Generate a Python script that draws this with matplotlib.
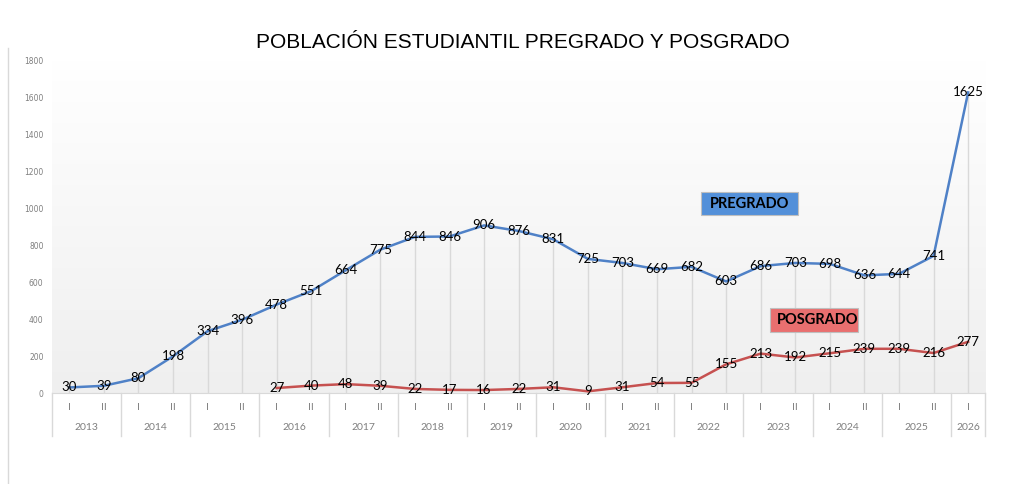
import numpy as np
import matplotlib
matplotlib.use("Agg")
import matplotlib.pyplot as plt
from matplotlib.patches import Rectangle
from matplotlib.colors import LinearSegmentedColormap

# semesters 2013-I ... 2026-I
years = [str(y) for y in range(2013, 2027)]
semestres = ["I", "II"] * 13 + ["I"]

pregrado = [30, 39, 80, 198, 334, 396, 478, 551, 664, 775, 844, 846, 906, 876,
            831, 725, 703, 669, 682, 603, 686, 703, 698, 636, 644, 741, 1625]
# posgrado starts at 2016-I
posgrado_start = 6
posgrado = [27, 40, 48, 39, 22, 17, 16, 22, 31, 9, 31, 54, 55, 155, 213, 192,
            215, 239, 239, 216, 277]

yticks = list(range(0, 1801, 200))

blue = "#4f81c7"
red = "#c65150"
fam = ["Lato", "DejaVu Sans"]

fig = plt.figure(figsize=(10.18, 4.84), dpi=100)
ax = fig.add_axes([0.051, 0.188, 0.917, 0.688])

n = len(pregrado)
x = np.arange(n)
xp = np.arange(posgrado_start, posgrado_start + len(posgrado))

# gradient background of plot area
grad = np.linspace(0, 1, 256).reshape(-1, 1)
ax.imshow(grad, extent=[-0.5, n - 0.5, 0, 1800], aspect="auto",
          cmap=LinearSegmentedColormap.from_list("g", ["#ffffff", "#efefef"]),
          origin="upper", zorder=0)

# drop lines
ax.vlines(x, 0, pregrado, color="#d9d9d9", lw=1, zorder=1)

ax.plot(x, pregrado, color=blue, lw=1.8, zorder=3)
ax.plot(xp, posgrado, color=red, lw=1.8, zorder=3)

lab_font = dict(fontsize=9.5, family=fam, color="black",
                ha="center", va="center", zorder=4)
for xi, v in zip(x, pregrado):
    ax.text(xi, v, str(v), **lab_font)
for xi, v in zip(xp, posgrado):
    ax.text(xi, v, str(v), **lab_font)

ax.set_xlim(-0.5, n - 0.5)
ax.set_ylim(0, 1800)
ax.set_yticks(yticks)
ax.set_yticklabels([str(t) for t in yticks], fontsize=5.5, color="#7f7f7f")
ax.tick_params(axis="y", length=0, pad=6)
ax.set_xticks([])
for s in ["top", "right", "left"]:
    ax.spines[s].set_visible(False)
ax.spines["bottom"].set_color("#d9d9d9")

# category axis table below
tr = ax.get_xaxis_transform()
bounds = [-0.5] + [1.5 + 2 * k for k in range(13)] + [n - 0.5]
for b in bounds:
    ax.plot([b, b], [0, -0.13], transform=tr, color="#d9d9d9", lw=1, clip_on=False)
for xi, s in zip(x, semestres):
    ax.text(xi, -0.045, s, transform=tr, ha="center", va="center", fontsize=7.5,
            color="#7f7f7f", family=fam)
for k, yr in enumerate(years):
    c = (bounds[k] + bounds[k + 1]) / 2
    ax.text(c, -0.105, yr, transform=tr, ha="center", va="center", fontsize=7.5,
            color="#7f7f7f", family=fam)

# series name boxes
fig.add_artist(Rectangle((0.6886, 0.5558), 0.0953, 0.0475, transform=fig.transFigure,
                         fc="#5390d9", ec="#bfbfbf", lw=0.8))
fig.text(0.6974, 0.5795, "PREGRADO", fontsize=10.5, fontweight="bold",
         family=fam, ha="left", va="center")
fig.add_artist(Rectangle((0.7564, 0.314), 0.0864, 0.0496, transform=fig.transFigure,
                         fc="#e96f6f", ec="#bfbfbf", lw=0.8))
fig.text(0.7633, 0.3388, "POSGRADO", fontsize=10.5, fontweight="bold",
         family=fam, ha="left", va="center")

fig.text(0.514, 0.913, "POBLACIÓN ESTUDIANTIL PREGRADO Y POSGRADO", fontsize=15,
         family=["Liberation Sans Narrow", "Liberation Sans"],
         ha="center", va="center")

# outer frame line at left
fig.add_artist(plt.Line2D([0.008, 0.008], [0.0, 0.9], color="#d9d9d9", lw=1))

fig.savefig("out.png", dpi=100)
